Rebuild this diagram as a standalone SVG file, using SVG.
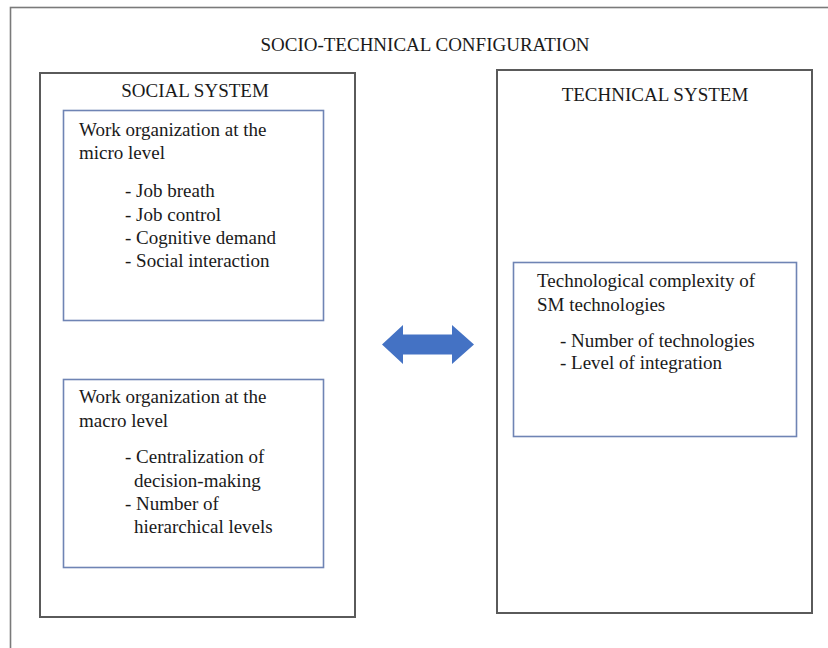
<svg xmlns="http://www.w3.org/2000/svg" width="828" height="648" viewBox="0 0 828 648">
<style>
text{font-family:"Liberation Serif","Times New Roman",serif;fill:#1a1a1a;font-size:19px}
.hdr{text-anchor:middle}
.sys{fill:#fff;stroke:#5a5a5a;stroke-width:2}
.inner{fill:#fff;stroke:#6f84b4;stroke-width:1.6}
</style>
<rect width="828" height="648" fill="#fff"/>
<rect x="10.5" y="7.5" width="830" height="660" fill="none" stroke="#7a7a7a" stroke-width="1.6"/>
<text id="title" class="hdr" x="425" y="51">SOCIO-TECHNICAL CONFIGURATION</text>
<g id="social-system">
<rect class="sys" x="40" y="73" width="315" height="544"/>
<text class="hdr" x="195" y="97">SOCIAL SYSTEM</text>
</g>
<g id="micro">
<rect class="inner" x="63.5" y="110.5" width="260" height="210"/>
<text x="79" y="136">Work organization at the</text>
<text x="79" y="159">micro level</text>
<text x="125" y="197">- Job breath</text>
<text x="125" y="221">- Job control</text>
<text x="125" y="244">- Cognitive demand</text>
<text x="125" y="267">- Social interaction</text>
</g>
<g id="macro">
<rect class="inner" x="63.5" y="379.5" width="260" height="188"/>
<text x="79" y="403">Work organization at the</text>
<text x="79" y="427">macro level</text>
<text x="125" y="463">- Centralization of</text>
<text x="134" y="487">decision-making</text>
<text x="125" y="510">- Number of</text>
<text x="134" y="533">hierarchical levels</text>
</g>
<g id="technical-system">
<rect class="sys" x="497" y="70" width="315" height="543"/>
<text class="hdr" x="655" y="101">TECHNICAL SYSTEM</text>
</g>
<g id="tech-complexity">
<rect class="inner" x="513.5" y="262.5" width="283" height="174"/>
<text x="537" y="287">Technological complexity of</text>
<text x="537" y="311">SM technologies</text>
<text x="560" y="347">- Number of technologies</text>
<text x="560" y="369">- Level of integration</text>
</g>
<g id="connectors">
<polygon points="382,344.5 403,325 403,334.5 452,334.5 452,325 474,344.5 452,364 452,354.5 403,354.5 403,364" fill="#4472c4"/>
</g>
</svg>
